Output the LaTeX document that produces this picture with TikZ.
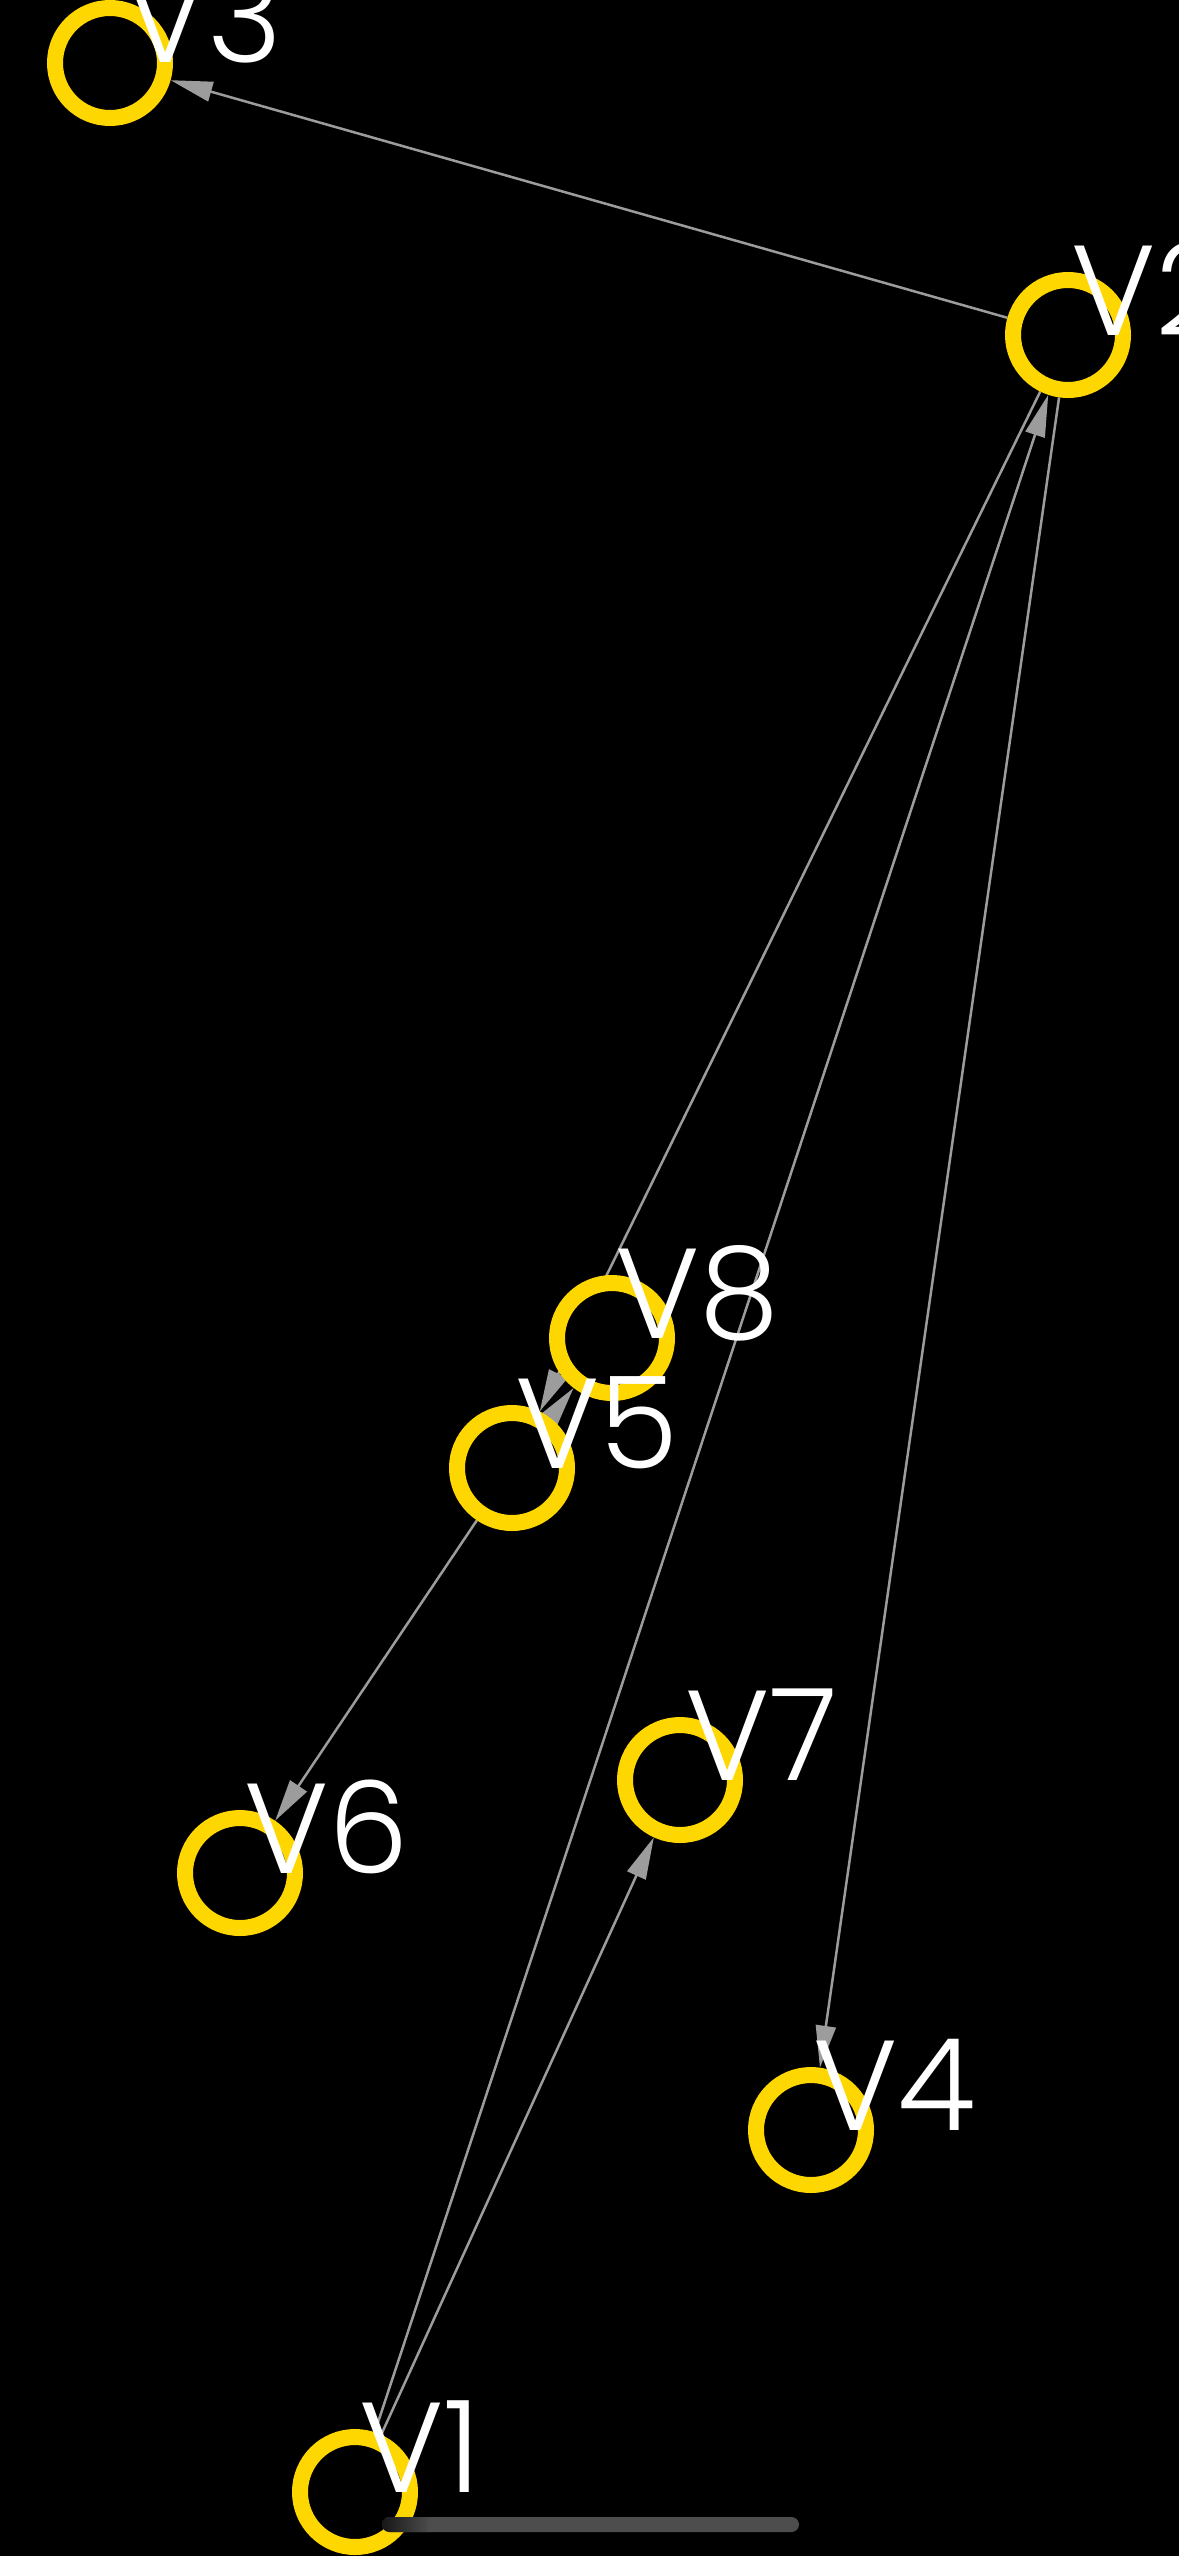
\documentclass[tikz,border=0pt]{standalone}
\usepackage{fontspec}
\IfFontExistsTF{Poppins Light}{\setmainfont{Poppins Light}}{\setmainfont{Poppins}}
\usetikzlibrary{arrows.meta}
\definecolor{ringyellow}{HTML}{FFD700}
\definecolor{edgegray}{HTML}{9C9C9C}
\definecolor{bargray}{HTML}{4D4D4D}
\pgfdeclarelayer{bg}
\pgfdeclarelayer{edgelayer}
\pgfsetlayers{bg,edgelayer,main}
\tikzset{
  vertex/.style={circle, draw=ringyellow, fill=black, line width=16pt,
    minimum size=110pt, inner sep=0pt, outer sep=8pt},
  vlabel/.style={anchor=base west, inner sep=0pt, outer sep=0pt, text=white,
    font=\fontsize{128}{128}\selectfont},
  conn/.style={draw=edgegray, line width=2.5pt,
    -{Triangle[length=42pt,width=20pt]}, fill=none},
}
\begin{document}
\begin{tikzpicture}[x=1pt,y=-1pt]
\begin{pgfonlayer}{bg}
  \fill[black] (0,0) rectangle (1179,2556);
\end{pgfonlayer}
\useasboundingbox (0,0) rectangle (1179,2556);

\node[vertex] (v3) at (110,63) {};
\node[vertex] (v2) at (1068,335) {};
\node[vertex] (v8) at (612,1338) {};
\node[vertex] (v5) at (512,1468) {};
\node[vertex] (v7) at (680,1780) {};
\node[vertex] (v6) at (240,1873) {};
\node[vertex] (v4) at (811,2130) {};
\node[vertex] (v1) at (355,2492) {};

\begin{pgfonlayer}{edgelayer}
  \draw[conn] (v2) -- (v3);
  \draw[conn] (v2) -- (v5);
  \draw[conn] (v5) -- (v8);
  \draw[conn] (v5) -- (v6);
  \draw[conn] (v1) -- (v7);
  \draw[conn] (v1) -- (v2);
  \draw[conn] (v2) -- (v4);
\end{pgfonlayer}

\node[vlabel] (l3) at ([xshift=13pt]v3.center) {V3};
\node[vlabel] (l2) at ([xshift=3pt]v2.center) {V2};
\node[vlabel] (l8) at ([xshift=3pt]v8.center) {V8};
\node[vlabel] (l5) at ([xshift=3pt]v5.center) {V5};
\node[vlabel] (l7) at ([xshift=5pt]v7.center) {V7};
\node[vlabel] (l6) at ([xshift=4pt]v6.center) {V6};
\node[vlabel] (l4) at ([xshift=2pt]v4.center) {V4};
\node[vlabel] (l1) at ([xshift=4pt]v1.center) {V1};

\path[fill=bargray, rounded corners=7.5pt] (382,2517) rectangle (799,2532);
\begin{scope}
  \clip[rounded corners=7.5pt] (382,2517) rectangle (799,2532);
  \shade[left color=black!70!bargray, right color=bargray] (382,2517) rectangle (430,2532);
\end{scope}
\end{tikzpicture}
\end{document}
